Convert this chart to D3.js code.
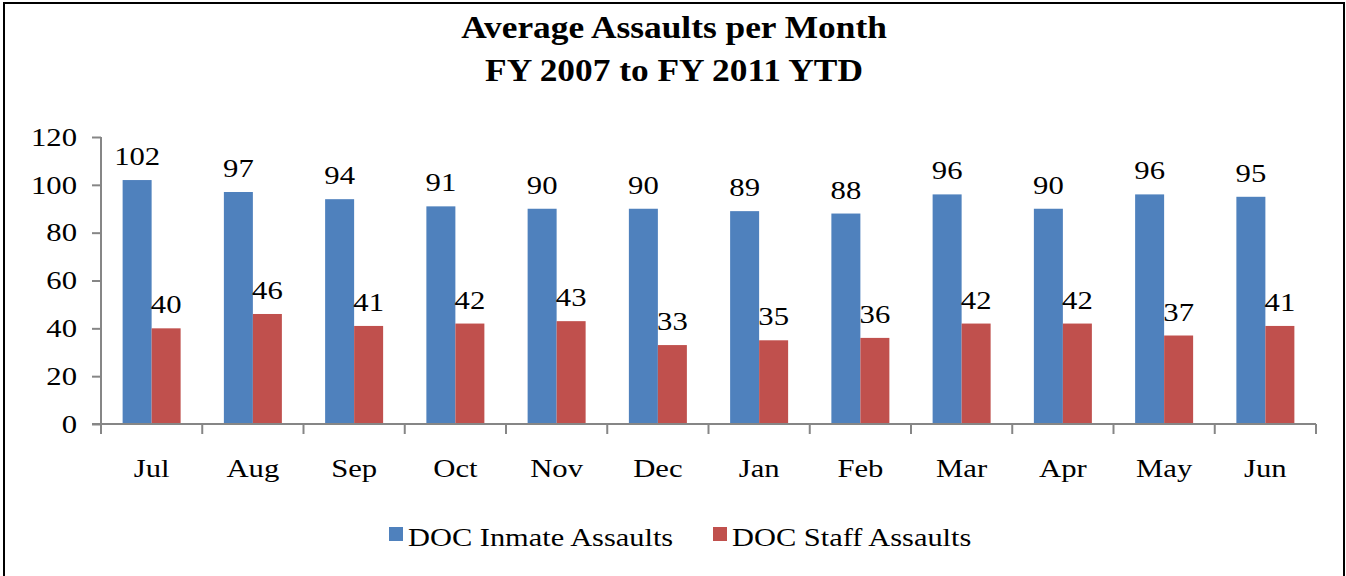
<!DOCTYPE html>
<html>
<head>
<meta charset="utf-8">
<script src="https://cdn.jsdelivr.net/npm/d3@7"></script>
<style>
  body { margin: 0; background: #fff; }
  svg text { font-family: "Liberation Serif", "Times New Roman", serif; }
</style>
</head>
<body>
<div id="chart"></div>
<script>
const months = ["Jul", "Aug", "Sep", "Oct", "Nov", "Dec", "Jan", "Feb", "Mar", "Apr", "May", "Jun"];
const inmateAssaults = [102, 97, 94, 91, 90, 90, 89, 88, 96, 90, 96, 95];
const staffAssaults = [40, 46, 41, 42, 43, 33, 35, 36, 42, 42, 37, 41];
const seriesNames = ["DOC Inmate Assaults", "DOC Staff Assaults"];
const yTicks = [0, 20, 40, 60, 80, 100, 120];

// the source picture is a little wider than tall, so glyphs get stretched sideways
const SX = 1.18;

function stretchedText(parent, x, y, str, size, anchor, sx) {
  const g = parent.append("g").attr("transform", `translate(${x},${y}) scale(${sx || SX},1)`);
  return g.append("text")
    .attr("text-anchor", anchor || "middle")
    .attr("font-size", size)
    .text(str);
}

function drawChart(container) {
  const dims = { width: 1346, height: 576 };
  const plot = { left: 101, right: 1316, top: 137, bottom: 424 };
  const colors = d3.scaleOrdinal().domain(seriesNames).range(["#4F81BD", "#C0504D"]);

  const rows = months.map((m, i) => ({ month: m, values: [inmateAssaults[i], staffAssaults[i]] }));

  const svg = d3.select(container).append("svg")
    .attr("width", dims.width)
    .attr("height", dims.height)
    .attr("font-family", "Liberation Serif, Times New Roman, serif");

  // outer frame
  svg.append("path")
    .attr("d", `M4,${dims.height} V3 H1344 V${dims.height}`)
    .attr("fill", "none")
    .attr("stroke", "#000")
    .attr("stroke-width", 2);

  const x = d3.scaleBand().domain(months).range([plot.left, plot.right]);
  const x1 = d3.scaleBand().domain(seriesNames).range([0, 58]);
  const y = d3.scaleLinear().domain([0, 120]).range([plot.bottom, plot.top]);

  // title
  stretchedText(svg, 674, 38, "Average Assaults per Month", 31, "middle", 1.14).attr("font-weight", "bold");
  stretchedText(svg, 674, 81, "FY 2007 to FY 2011 YTD", 31, "middle", 1.14).attr("font-weight", "bold");

  // bars
  const groups = svg.append("g")
    .selectAll("g")
    .data(rows)
    .join("g")
    .attr("transform", d => `translate(${x(d.month) + (x.bandwidth() - 58) / 2},0)`);

  groups.selectAll("rect")
    .data(d => d.values.map((v, i) => ({ key: seriesNames[i], value: v })))
    .join("rect")
    .attr("x", d => x1(d.key))
    .attr("y", d => y(d.value))
    .attr("width", x1.bandwidth())
    .attr("height", d => y(0) - y(d.value))
    .attr("fill", d => colors(d.key));

  groups.each(function (d) {
    const g = d3.select(this);
    d.values.forEach((v, i) => {
      stretchedText(g, x1(seriesNames[i]) + x1.bandwidth() / 2, y(v) - 15, v, 26);
    });
  });

  // y axis
  const yAxis = svg.append("g")
    .attr("transform", `translate(${plot.left},0)`)
    .call(d3.axisLeft(y).tickValues(yTicks).tickSize(9).tickPadding(14));
  yAxis.attr("font-family", null);
  yAxis.selectAll("line, path").attr("stroke", "#868686").attr("stroke-width", 2);
  yAxis.select(".domain").attr("d", `M0,${plot.top}V${plot.bottom}`);
  yAxis.selectAll("text")
    .attr("font-size", 26).attr("fill", "#000")
    .attr("x", -24 / SX)
    .attr("transform", `scale(${SX},1)`);

  // x axis
  const xAxis = svg.append("g").attr("transform", `translate(0,${plot.bottom})`);
  xAxis.append("line")
    .attr("x1", plot.left - 9).attr("x2", plot.right)
    .attr("stroke", "#868686").attr("stroke-width", 2);
  xAxis.selectAll("line.tick")
    .data(months.concat(["end"]))
    .join("line")
    .attr("class", "tick")
    .attr("x1", (d, i) => i < months.length ? x(d) : plot.right)
    .attr("x2", (d, i) => i < months.length ? x(d) : plot.right)
    .attr("y1", 0).attr("y2", 10)
    .attr("stroke", "#868686").attr("stroke-width", 2);
  months.forEach(m => stretchedText(xAxis, x(m) + x.bandwidth() / 2, 53, m, 26));

  // legend
  const legendX = [389, 713];
  seriesNames.forEach((name, i) => {
    svg.append("rect")
      .attr("x", legendX[i]).attr("y", 527)
      .attr("width", 14).attr("height", 14)
      .attr("fill", colors(name));
    stretchedText(svg, legendX[i] + 19, 546, name, 26, "start", 1.17);
  });

  return svg.node();
}

drawChart("#chart");
</script>
</body>
</html>
